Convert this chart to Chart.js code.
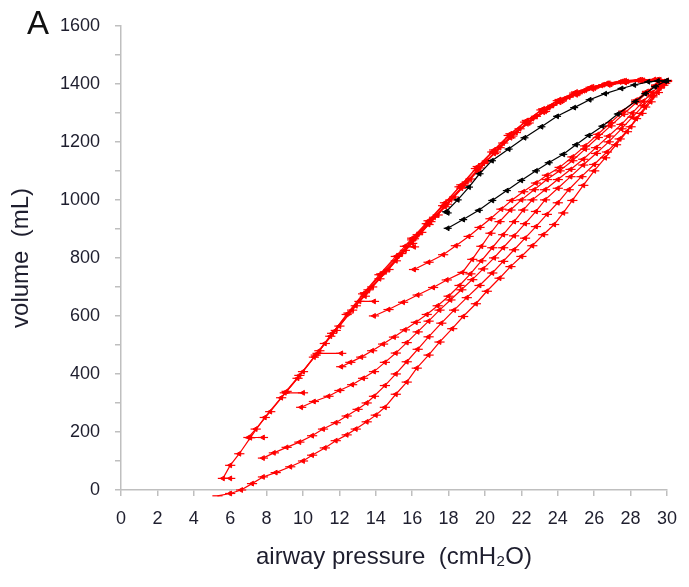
<!DOCTYPE html>
<html>
<head>
<meta charset="utf-8">
<script src="https://cdn.jsdelivr.net/npm/chart.js@4.4.3/dist/chart.umd.min.js"></script>
<style>
  html, body { margin: 0; padding: 0; background: #fff; }
  #wrap { position: relative; width: 689px; height: 587px; }
  #panel { position: absolute; left: 27px; top: 4px; font: 33px "Liberation Sans", Arial, sans-serif; color: #111; }
</style>
</head>
<body>
<div id="wrap">
  <canvas id="pv" width="689" height="587"></canvas>
  <div id="panel">A</div>
</div>
<script>
// P-V loops: [airway pressure cmH2O, volume mL], inflation limb then deflation limb
const loopBlack = [
  [17.95,902],[18.8,932],[19.66,964],[20.4,998],[21.2,1032],[21.99,1067],[22.8,1100],[23.5,1128],
  [24.3,1157],[25.0,1190],[25.7,1222],[26.45,1254],[27.3,1296],[28.26,1339],[28.8,1366],[29.34,1390],
  [29.9,1409],[30.0,1411],
  [29.5,1410],[28.97,1407],[28.2,1396],[27.5,1384],[26.6,1366],[25.75,1345],[24.9,1318],[23.96,1288],
  [23.1,1252],[22.17,1214],[21.3,1175],[20.38,1135],[19.7,1090],[19.12,1044],[18.5,1000],[17.86,959],[17.95,955]
];

const loopRed1 = [
  [16.1,760],[16.9,785],[17.7,811],[18.4,842],[19.1,874],[19.7,905],[20.3,935],[20.9,968],[21.45,998],
  [22.1,1028],[22.8,1058],[23.4,1085],[24.1,1112],[24.8,1148],[25.5,1186],[26.2,1226],[26.9,1266],
  [27.6,1306],[28.3,1344],[28.9,1374],[29.4,1396],[29.8,1408],[30.0,1412],
  [29.3,1415],[28.5,1414],[27.6,1410],[26.7,1402],[25.8,1388],[24.9,1368],[24.0,1342],[23.1,1310],
  [22.2,1268],[21.3,1222],[20.4,1165],[19.5,1108],[18.6,1045],[17.7,980],[16.8,918],[16.0,862],[15.6,840],[16.1,838]
];

const loopRed2 = [
  [13.9,600],[14.7,622],[15.5,647],[16.3,672],[17.15,698],[17.9,724],[18.76,750],[19.3,795],[19.8,840],
  [20.3,885],[20.8,925],[21.4,965],[22.0,1000],[22.7,1035],[23.4,1070],[24.1,1100],[24.8,1135],
  [25.5,1175],[26.2,1215],[26.9,1255],[27.6,1295],[28.3,1335],[28.9,1370],[29.4,1394],[29.8,1406],[30.0,1410],
  [29.5,1412],[28.6,1410],[27.7,1404],[26.8,1396],[25.9,1382],[25.0,1362],[24.1,1336],[23.2,1302],
  [22.3,1262],[21.4,1214],[20.5,1160],[19.6,1100],[18.7,1040],[17.8,976],[16.9,915],[16.0,850],
  [15.1,790],[14.2,728],[13.4,668],[13.1,650],[13.9,650]
];

const loopRed3 = [
  [12.1,425],[12.6,440],[13.2,458],[13.8,480],[14.4,503],[15.0,527],[15.6,552],[16.2,578],[16.8,605],
  [17.4,635],[18.0,668],[18.6,705],[19.2,745],[19.8,790],[20.4,835],[21.0,880],[21.6,925],[22.1,965],
  [22.6,1000],[23.3,1035],[24.0,1070],[24.7,1105],[25.4,1140],[26.1,1180],[26.8,1220],[27.5,1260],
  [28.1,1300],[28.7,1340],[29.2,1370],[29.6,1395],[30.0,1410],
  [29.4,1413],[28.5,1413],[27.5,1408],[26.5,1397],[25.5,1378],[24.6,1354],[23.7,1326],[22.8,1288],
  [21.9,1245],[21.0,1196],[20.1,1134],[19.2,1072],[18.3,1010],[17.4,948],[16.5,888],[15.6,826],
  [14.7,760],[13.8,700],[12.9,635],[12.0,565],[11.2,505],[10.8,471],[12.1,471]
];

const loopRed4 = [
  [9.9,285],[10.6,305],[11.4,323],[12.0,343],[12.7,363],[13.3,385],[13.9,408],[14.5,440],[15.1,472],
  [15.7,508],[16.3,545],[16.9,582],[17.5,620],[18.1,655],[18.7,690],[19.3,725],[19.9,762],[20.5,800],
  [21.0,835],[21.6,876],[22.2,918],[22.8,960],[23.3,1000],[24.0,1040],[24.7,1080],[25.4,1120],
  [26.1,1160],[26.8,1200],[27.5,1245],[28.1,1285],[28.7,1325],[29.2,1360],[29.6,1388],[30.0,1410],
  [29.6,1414],[28.7,1412],[27.8,1408],[26.9,1398],[26.0,1385],[25.1,1366],[24.2,1340],[23.3,1305],
  [22.4,1265],[21.5,1220],[20.6,1165],[19.7,1110],[18.8,1050],[17.9,985],[17.0,925],[16.1,866],
  [15.2,805],[14.3,745],[13.4,680],[12.5,610],[11.6,540],[10.7,465],[9.8,395],[9.0,335],[10.0,335]
];

const loopRed5 = [
  [7.8,110],[8.4,128],[9.1,147],[9.8,165],[10.5,187],[11.1,210],[11.8,232],[12.4,255],[13.0,278],
  [13.5,300],[13.9,323],[14.5,360],[15.1,400],[15.7,442],[16.3,485],[16.9,528],[17.6,575],[18.3,620],
  [19.0,663],[19.7,705],[20.4,748],[21.0,788],[21.6,828],[22.2,868],[22.8,908],[23.4,950],[24.0,990],
  [24.6,1035],[25.3,1080],[26.0,1122],[26.7,1165],[27.4,1210],[28.0,1252],[28.6,1298],[29.1,1338],
  [29.5,1370],[29.8,1395],[30.0,1408],
  [29.4,1412],[28.4,1412],[27.4,1406],[26.4,1394],[25.4,1376],[24.4,1350],[23.5,1318],[22.6,1280],
  [21.7,1232],[20.8,1180],[19.9,1125],[19.0,1062],[18.1,1000],[17.2,940],[16.3,880],[15.4,815],
  [14.5,752],[13.6,690],[12.7,620],[11.8,550],[10.9,480],[10.0,408],[9.1,340],[8.2,270],[7.4,210],
  [7.0,181],[7.8,181]
];

const loopRed6 = [
  [5.3,-20],[6.0,-12],[6.6,0],[7.2,22],[7.8,45],[8.5,60],[9.3,80],[10.0,100],[10.5,120],[11.2,145],
  [11.8,170],[12.4,190],[12.9,210],[13.5,235],[14.0,258],[14.5,285],[15.1,330],[15.7,372],[16.25,420],
  [16.9,465],[17.5,510],[18.2,556],[18.8,598],[19.5,642],[20.1,685],[20.8,730],[21.4,770],[22.0,805],
  [22.6,842],[23.2,880],[23.8,915],[24.3,955],[24.8,998],[25.4,1050],[26.0,1100],[26.6,1145],
  [27.2,1190],[27.8,1235],[28.3,1280],[28.8,1320],[29.2,1355],[29.6,1385],[29.9,1402],
  [29.5,1415],[28.6,1414],[27.7,1411],[26.8,1402],[25.9,1390],[25.0,1372],[24.1,1346],[23.2,1314],
  [22.3,1274],[21.4,1228],[20.5,1172],[19.6,1115],[18.7,1052],[17.8,990],[16.9,928],[16.0,868],
  [15.1,805],[14.2,742],[13.3,676],[12.4,605],[11.5,530],[10.6,458],[9.7,385],[8.8,318],[7.9,250],
  [7.1,180],[6.5,125],[6.0,85],[5.6,40],[6.0,40]
];

// horizontal error (+/- cmH2O) shown on each point
const errRed = 0.28;
const errBlack = 0.22;

const xTicksMax = 30, xStep = 2;
const yTicksMax = 1600, yStep = 100, yLabelStep = 200;

const RED = '#ff0000';
const BLACK = '#000000';
const AXIS = '#bfbfbf';
const TEXT = '#1e1e2e';

function loopSet(pts, color, err) {
  return {
    data: pts.map(p => ({ x: p[0], y: p[1] })),
    errX: err,
    showLine: true,
    borderColor: color,
    backgroundColor: color,
    borderWidth: 1.2,
    pointStyle: 'triangle',
    rotation: -90,
    pointRadius: 2.8,
    pointBorderWidth: 1,
    clip: false,
  };
}

// error bars drawn with the x scale, in the same order as the datasets
const errorBars = {
  id: 'errorBars',
  afterDatasetDraw(chart, args) {
    const ds = chart.data.datasets[args.index];
    const xs = chart.scales.x;
    const ctx = chart.ctx;
    ctx.save();
    ctx.strokeStyle = ds.borderColor;
    ctx.lineWidth = 1.2;
    args.meta.data.forEach((pt, j) => {
      const d = ds.data[j];
      const x0 = xs.getPixelForValue(d.x - ds.errX);
      const x1 = xs.getPixelForValue(d.x + ds.errX);
      ctx.beginPath();
      ctx.moveTo(x0, pt.y);
      ctx.lineTo(x1, pt.y);
      ctx.stroke();
    });
    ctx.restore();
  }
};

new Chart(document.getElementById('pv'), {
  type: 'scatter',
  data: {
    datasets: [
      loopSet(loopBlack, BLACK, errBlack),
      loopSet(loopRed1, RED, errRed),
      loopSet(loopRed2, RED, errRed),
      loopSet(loopRed3, RED, errRed),
      loopSet(loopRed4, RED, errRed),
      loopSet(loopRed5, RED, errRed),
      loopSet(loopRed6, RED, errRed),
    ]
  },
  plugins: [errorBars],
  options: {
    responsive: false,
    animation: false,
    layout: { padding: { top: 20, right: 10, bottom: 0, left: 0 } },
    plugins: { legend: { display: false }, tooltip: { enabled: false } },
    scales: {
      x: {
        type: 'linear', min: 0, max: xTicksMax,
        afterFit: s => { s.height = 97; },
        ticks: { stepSize: xStep, color: TEXT, padding: 12, font: { family: 'Liberation Sans', size: 18 } },
        grid: { drawOnChartArea: false, drawTicks: true, tickLength: 6, color: AXIS, lineWidth: 1.5 },
        border: { color: AXIS, width: 1.5 },
        title: { display: true, text: 'airway pressure  (cmH\u2082O)', color: TEXT,
                 font: { family: 'Liberation Sans', size: 24 }, padding: { top: 0, bottom: 15 } },
      },
      y: {
        type: 'linear', min: 0, max: yTicksMax,
        afterFit: s => { s.width = 121; },
        ticks: { stepSize: yStep, color: TEXT, padding: 15, font: { family: 'Liberation Sans', size: 18 },
                 callback: v => (v % yLabelStep === 0 ? v : '') },
        grid: { drawOnChartArea: false, drawTicks: true, tickLength: 6, color: AXIS, lineWidth: 1.5 },
        border: { color: AXIS, width: 1.5 },
        title: { display: true, text: 'volume  (mL)', color: TEXT,
                 font: { family: 'Liberation Sans', size: 24 }, padding: { top: 7, bottom: 0 } },
      }
    }
  }
});
</script>
</body>
</html>
